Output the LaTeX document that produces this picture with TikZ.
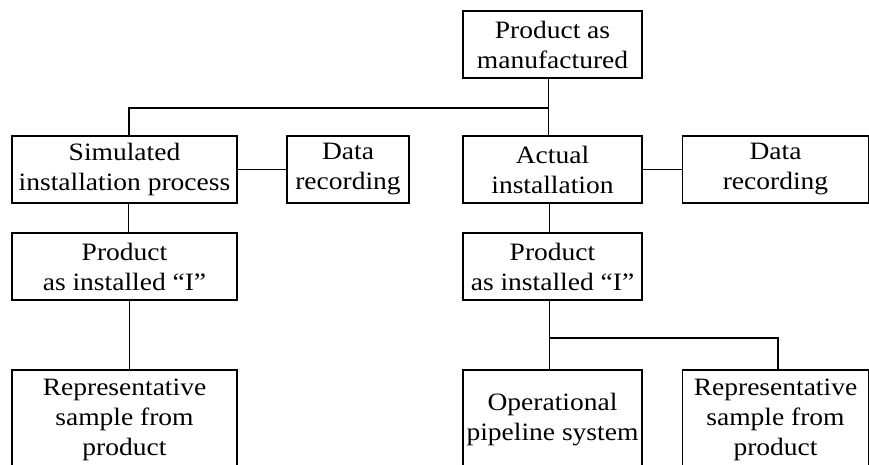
\documentclass[tikz,border=0pt]{standalone}
\usepackage{fontspec}
\setmainfont{Liberation Serif}[FakeStretch=1.1]
\begin{document}
\begin{tikzpicture}[x=1pt,y=-1pt,
  box/.style={draw=black,line width=1.6pt,align=center,inner sep=0pt,
    minimum height=67pt,font=\fontsize{25}{30}\selectfont},
  tall/.style={minimum height=100pt},
  link/.style={draw=black,line width=1.1pt}]
\useasboundingbox (0,0) rectangle (869,464);
\clip (0,0) rectangle (869,464);
\node[box,minimum width=179pt] (pm) at (552.5,44.5) {Product as\\manufactured};
\node[box,minimum width=225pt] (sim) at (124.5,169.5) {Simulated\\installation process};
\node[box,minimum width=122pt] (dl) at (348,169.5) {Data\\recording};
\node[box,minimum width=179pt] (act) at (552.5,169.5) {Actual\\installation};
\node[box,minimum width=186pt] (dr) at (775.5,169.5) {Data\\recording};
\node[box,minimum width=225pt] (pil) at (124.5,266.5) {Product\\as installed “I”};
\node[box,minimum width=179pt] (pir) at (552.5,266.5) {Product\\as installed “I”};
\node[box,tall,minimum width=225pt] (rsl) at (124.5,420) {Representative\\sample from\\product};
\node[box,tall,minimum width=179pt] (op) at (552.5,420) {Operational\\pipeline system};
\node[box,tall,minimum width=186pt] (rsr) at (775.5,420) {Representative\\sample from\\product};
\coordinate (j1) at ([xshift=-4pt]pm.south |- 0,108);
\coordinate (j2) at ([xshift=-3pt]pir.south |- 0,338);
\draw[link] ([xshift=-4pt]pm.south) -- (j1) -- ([xshift=-4pt]act.north);
\draw[link] (j1) -| ([xshift=4.5pt]sim.north);
\draw[link] ([xshift=4pt]sim.south) -- ([xshift=4pt]pil.north);
\draw[link] ([xshift=5pt]pil.south) -- ([xshift=5pt]rsl.north);
\draw[link] (sim.east) -- (dl.west);
\draw[link] (act.east) -- (dr.west);
\draw[link] ([xshift=-3pt]act.south) -- ([xshift=-3pt]pir.north);
\draw[link] ([xshift=-3pt]pir.south) -- (j2) -- ([xshift=-3pt]op.north);
\draw[link] (j2) -| ([xshift=2.5pt]rsr.north);
\end{tikzpicture}
\end{document}
